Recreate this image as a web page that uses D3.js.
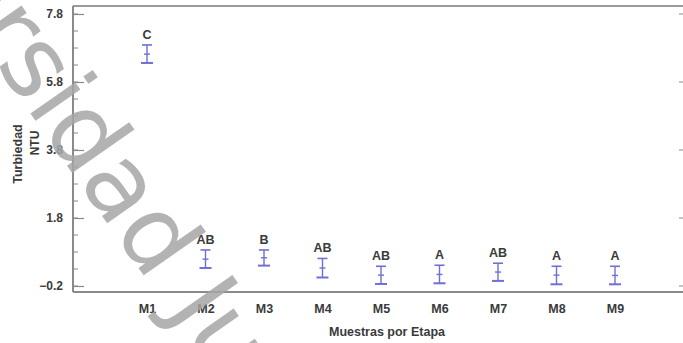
<!DOCTYPE html>
<html>
<head>
<meta charset="utf-8">
<script src="https://cdn.jsdelivr.net/npm/d3@7/dist/d3.min.js"></script>
<style>
  html, body { margin: 0; padding: 0; background: #fff; }
  svg { display: block; }
  .tick-label { font-family: "Liberation Sans", Arial, sans-serif; font-weight: bold; fill: #3a3a3a; }
</style>
</head>
<body>
<svg id="chart" width="683" height="343"></svg>
<script>
// Samples per stage and their mean turbidity with 95% LSD interval bounds (NTU)
const categories = ["M1", "M2", "M3", "M4", "M5", "M6", "M7", "M8", "M9"];
const means      = [6.62, 0.59, 0.63, 0.33, 0.12, 0.14, 0.21, 0.12, 0.11];
const lower      = [6.36, 0.33, 0.40, 0.05, -0.14, -0.12, -0.05, -0.15, -0.15];
const upper      = [6.89, 0.86, 0.86, 0.61, 0.38, 0.41, 0.47, 0.38, 0.38];
const groups     = ["C", "AB", "B", "AB", "AB", "A", "AB", "A", "A"];
const yTicks     = [-0.2, 1.8, 3.8, 5.8, 7.8];
const yMinorStep = 0.5;

const svg = d3.select("#chart");

// Plot frame
const frame = { left: 73, right: 683, top: 6, bottom: 292 };

const y = d3.scaleLinear().domain([-0.2, 7.8]).range([286, 14]);
const x = d3.scaleLinear().domain([1, 9]).range([147, 615]);
const xPos = i => x(i + 1);

const axisColor = "#8a8a8a";
const barColor = "#6f6fd6";

// frame lines
svg.append("line").attr("x1", frame.left).attr("x2", frame.right).attr("y1", frame.top).attr("y2", frame.top)
  .attr("stroke", "#9a9a9a").attr("stroke-width", 2);
svg.append("line").attr("x1", frame.left).attr("x2", frame.right).attr("y1", frame.bottom).attr("y2", frame.bottom)
  .attr("stroke", axisColor).attr("stroke-width", 2);
svg.append("line").attr("x1", frame.left).attr("x2", frame.left).attr("y1", frame.top).attr("y2", frame.bottom)
  .attr("stroke", axisColor).attr("stroke-width", 2);

// minor ticks on the left axis
const minor = d3.range(-0.2, 7.8 + 1e-9, yMinorStep);
svg.append("g").selectAll("line").data(minor).join("line")
  .attr("x1", frame.left).attr("x2", frame.left + 5)
  .attr("y1", d => y(d)).attr("y2", d => y(d))
  .attr("stroke", axisColor).attr("stroke-width", 1);

// major ticks + labels on the left axis
const yAxis = d3.axisLeft(y).tickValues(yTicks).tickFormat(d3.format(".1f"))
  .tickSizeInner(-11).tickSizeOuter(0).tickPadding(20);
const gy = svg.append("g").attr("transform", `translate(${frame.left},0)`).call(yAxis);
gy.select(".domain").remove();
gy.selectAll(".tick line").attr("stroke", axisColor).attr("stroke-width", 1.2);
gy.selectAll(".tick text").attr("class", "tick-label").attr("font-size", 12)
  .attr("x", -10).attr("fill", "#3a3a3a");

// short ticks on the right edge
svg.append("g").selectAll("line").data(yTicks).join("line")
  .attr("x1", frame.right - 4).attr("x2", frame.right)
  .attr("y1", d => y(d)).attr("y2", d => y(d))
  .attr("stroke", axisColor).attr("stroke-width", 1);

// category labels along the bottom axis
const xAxis = d3.axisBottom(x).tickValues(d3.range(1, categories.length + 1))
  .tickFormat(d => categories[d - 1]).tickSize(0).tickPadding(12);
const gx = svg.append("g").attr("transform", `translate(0,${frame.bottom})`).call(xAxis);
gx.select(".domain").remove();
gx.selectAll(".tick text").attr("class", "tick-label").attr("font-size", 12.5).attr("fill", "#3a3a3a");

// axis titles
svg.append("text").attr("class", "tick-label")
  .attr("x", 387).attr("y", 336).attr("text-anchor", "middle")
  .attr("font-size", 12.5).text("Muestras por Etapa");

svg.append("text").attr("class", "tick-label")
  .attr("transform", "translate(22,154) rotate(-90)")
  .attr("text-anchor", "middle").attr("font-size", 12.5).text("Turbiedad");
svg.append("text").attr("class", "tick-label")
  .attr("transform", "translate(39,143) rotate(-90)")
  .attr("text-anchor", "middle").attr("font-size", 12).text("NTU");

// interval bars
const bars = svg.append("g");
categories.forEach((c, i) => {
  const cx = xPos(i);
  const g = bars.append("g");
  g.append("line").attr("x1", cx).attr("x2", cx)
    .attr("y1", y(upper[i])).attr("y2", y(lower[i]))
    .attr("stroke", barColor).attr("stroke-width", 1.4);
  g.append("line").attr("x1", cx - 5).attr("x2", cx + 5)
    .attr("y1", y(upper[i])).attr("y2", y(upper[i]))
    .attr("stroke", barColor).attr("stroke-width", 1.6);
  g.append("line").attr("x1", cx - 6).attr("x2", cx + 6)
    .attr("y1", y(lower[i])).attr("y2", y(lower[i]))
    .attr("stroke", barColor).attr("stroke-width", 2);
  g.append("line").attr("x1", cx - 3).attr("x2", cx + 3)
    .attr("y1", y(means[i])).attr("y2", y(means[i]))
    .attr("stroke", barColor).attr("stroke-width", 1.4);
  g.append("text").attr("class", "tick-label")
    .attr("x", cx).attr("y", y(upper[i]) - 6)
    .attr("text-anchor", "middle").attr("font-size", 12.5)
    .text(groups[i]);
});

// repository watermark across the upper-left
svg.append("text")
  .attr("transform", "translate(-192,-204) rotate(55)")
  .attr("font-family", "DejaVu Sans, sans-serif")
  .attr("font-size", 100)
  .attr("fill", "#a6a6a6").attr("fill-opacity", 0.85)
  .text("Universidad Juárez");
</script>
</body>
</html>
